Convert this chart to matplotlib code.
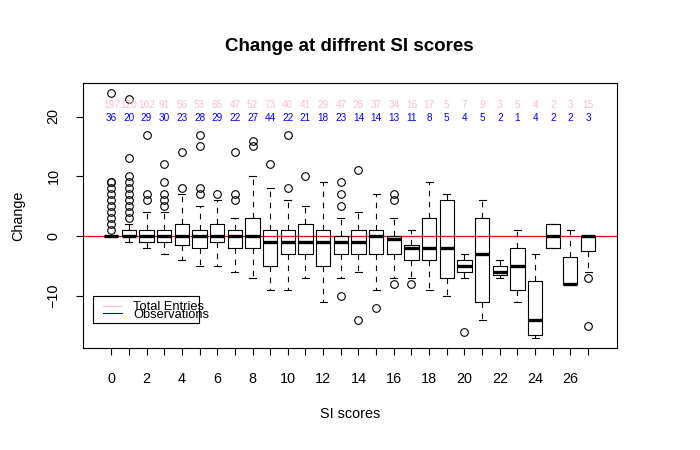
import matplotlib
matplotlib.use("Agg")
import matplotlib.pyplot as plt
from matplotlib.patches import Rectangle

plt.rcParams['font.family'] = ['Liberation Sans', 'DejaVu Sans']

# SI score groups 0..27
scores = list(range(28))

total_entries = [197, 120, 102, 91, 56, 53, 65, 47, 52, 73, 40, 41, 29, 47,
                 28, 37, 34, 16, 17, 5, 7, 9, 3, 5, 4, 2, 3, 15]
observations = [36, 20, 29, 30, 23, 28, 29, 22, 27, 44, 22, 21, 18, 23,
                14, 14, 13, 11, 8, 5, 4, 5, 2, 1, 4, 2, 2, 3]

# box statistics
q1 = [0, 0, -1, -1, -1.5, -2, -1, -2, -2, -5, -3, -3, -5, -3,
      -3, -3, -3, -4, -4, -7, -6, -11, -6.5, -9, -16.5, -2, -8, -2.5]
med = [0, 0, 0, 0, 0, 0, 0, 0, 0, -1, -1, -1, -1, -1,
       -1, 0, -0.5, -2, -2, -2, -5, -3, -6, -5, -14, 0, -8, 0]
q3 = [0, 1, 1, 1, 2, 1, 2, 1, 3, 1, 1, 2, 1, 0,
      1, 1, 0, -1.5, 3, 6, -4, 3, -5, -2, -7.5, 2, -3.5, 0]
whis_lo = [0, -1, -2, -3, -4, -5, -5, -6, -7, -9, -9, -7, -11, -7,
           -6, -9, -7, -7, -9, -10, -7, -14, -7, -11, -17, -2, -8, -6]
whis_hi = [0, 2, 4, 4, 7, 5, 6, 3, 10, 8, 6, 5, 9, 3,
           4, 7, 3, 1, 9, 7, -3, 6, -4, 1, -3, 2, 1, 0]
outliers = [
    [24, 9, 9, 8, 7, 6, 5, 4, 3, 2, 1],
    [23, 13, 10, 9, 8, 7, 6, 5, 4, 3],
    [17, 7, 6],
    [12, 9, 7, 6, 5],
    [14, 8],
    [17, 15, 8, 7],
    [7],
    [14, 7, 6],
    [16, 15],
    [12],
    [17, 8],
    [10],
    [],
    [9, 7, 5, -10],
    [11, -14],
    [-12],
    [7, 6, -8],
    [-8],
    [],
    [],
    [-16],
    [],
    [],
    [],
    [],
    [],
    [],
    [-7, -15],
]

stats = []
for i in scores:
    stats.append(dict(med=med[i], q1=q1[i], q3=q3[i], whislo=whis_lo[i],
                      whishi=whis_hi[i], fliers=outliers[i]))

fig = plt.figure(figsize=(7, 4.5), dpi=100)
ax = fig.add_axes([0.118, 0.227, 0.763, 0.589])

ax.bxp(stats, positions=scores, widths=0.8, patch_artist=False,
       boxprops=dict(color='black', linewidth=0.8),
       medianprops=dict(color='black', linewidth=2.4, solid_capstyle='butt'),
       whiskerprops=dict(color='black', linewidth=0.8, linestyle=(0, (5, 5))),
       capprops=dict(color='black', linewidth=0.8),
       flierprops=dict(marker='o', markerfacecolor='none', markeredgecolor='black',
                       markersize=5.5, markeredgewidth=0.8))

ax.axhline(0, color='red', linewidth=0.9, zorder=0.5)

for i in scores:
    ax.text(i, 22, str(total_entries[i]), color='pink', fontsize=7.2,
            ha='center', va='center')
    ax.text(i, 19.7, str(observations[i]), color='blue', fontsize=7.2,
            ha='center', va='center')

ax.set_xlim(-1.62, 28.62)
ax.set_ylim(-18.64, 25.64)
ax.set_xticks(scores)
ax.set_xticklabels([str(s) if s % 2 == 0 else '' for s in scores])
ax.set_yticks([-10, 0, 10, 20])
ax.tick_params(axis='both', direction='out', length=5, width=0.8,
               labelsize=10.4, pad=11)
ax.tick_params(axis='x', pad=12.5)
for lab in ax.get_yticklabels():
    lab.set_rotation(90)
    lab.set_va('center')
for sp in ax.spines.values():
    sp.set_linewidth(0.8)

ax.set_title('Change at diffrent SI scores', fontsize=13.5, fontweight='bold', pad=23)
ax.set_xlabel('SI scores', fontsize=10.4, labelpad=15)
ax.set_ylabel('Change', fontsize=10.4, labelpad=15)

# legend drawn the way the original looks (text spills over the box)
ax.add_patch(Rectangle((0.0193, 0.094), 0.1984, 0.102, transform=ax.transAxes,
                       fill=False, edgecolor='black', linewidth=0.8))
ax.plot([0.038, 0.0735], [0.159, 0.159], color='pink', linewidth=0.8,
        transform=ax.transAxes)
ax.plot([0.038, 0.0735], [0.131, 0.131], color='blue', linewidth=0.8,
        transform=ax.transAxes)
ax.text(0.0947, 0.155, 'Total Entries', fontsize=9.3, va='center', ha='left',
        transform=ax.transAxes)
ax.text(0.0947, 0.125, 'Observations', fontsize=9.3, va='center', ha='left',
        transform=ax.transAxes)

fig.savefig('out.png', dpi=100)
